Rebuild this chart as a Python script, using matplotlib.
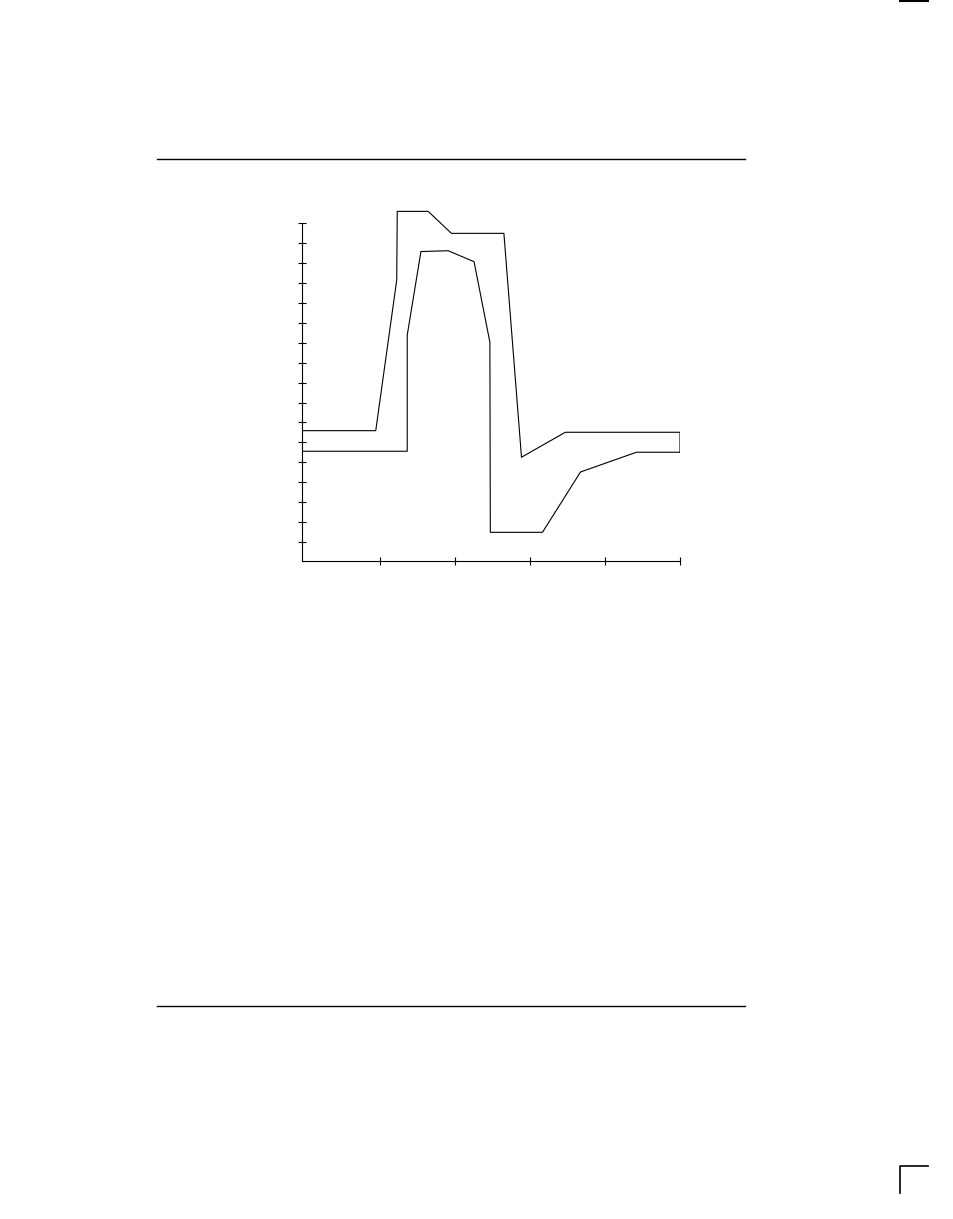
import matplotlib
matplotlib.use("Agg")
import matplotlib.pyplot as plt
from matplotlib.lines import Line2D

# upper envelope (ends with the drop on the right edge)
upper_x = [-0.04, 0.94, 1.22, 1.227, 1.64, 1.95, 2.65, 2.885, 3.47, 5.0, 5.0]
upper_y = [5.59, 5.59, 13.13, 16.57, 16.57, 15.47, 15.47, 4.26, 5.51, 5.51, 4.51]

# lower envelope
lower_x = [-0.04, 1.36, 1.36, 1.543, 1.907, 2.252, 2.463, 2.469, 3.165, 3.672, 4.419, 5.0]
lower_y = [4.56, 4.56, 10.37, 14.56, 14.60, 14.05, 10.02, 0.50, 0.50, 3.52, 4.51, 4.51]

x_ticks = [1, 2, 3, 4, 5]
y_ticks = list(range(0, 17))

W, H = 954, 1219
fig = plt.figure(figsize=(W / 100, H / 100), dpi=100)

left, right = 302.3, 680.0
bottom, top = 561.3, 202.8
ax = fig.add_axes([left / W, 1 - bottom / H, (right - left) / W, (bottom - top) / H])

ax.plot(upper_x, upper_y, color="black", lw=0.8)
ax.plot(lower_x, lower_y, color="black", lw=0.8)

ax.set_xlim(-0.04, 5.0)
ax.set_ylim(-0.951, 17.0)
ax.set_xticks(x_ticks)
ax.set_yticks(y_ticks)
ax.tick_params(direction="inout", length=6, width=0.8, labelleft=False, labelbottom=False)
for s in ["top", "right"]:
    ax.spines[s].set_visible(False)
ax.spines["left"].set_bounds(-0.951, 16)
ax.spines["left"].set_linewidth(0.8)
ax.spines["bottom"].set_linewidth(0.8)
ax.patch.set_visible(False)

# page rules and crop marks
def px_line(xs, ys, lw=1.0):
    fig.add_artist(Line2D([x / W for x in xs], [1 - y / H for y in ys],
                          color="black", lw=lw))

px_line([157, 745], [159, 159])
px_line([157, 745], [1006, 1006])
px_line([900, 928], [1, 1], lw=1.5)
px_line([900, 900, 928], [1193, 1166, 1166], lw=1.2)

fig.savefig("out.png", dpi=100)
